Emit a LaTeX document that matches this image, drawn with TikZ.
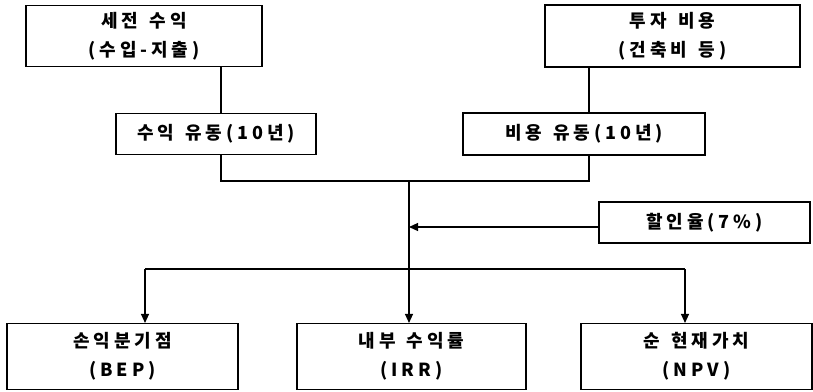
\documentclass[tikz,border=0pt]{standalone}
\usepackage{fontspec}
\setmainfont{Noto Sans CJK KR}[LetterSpace=22]
\usetikzlibrary{arrows.meta}
\newcommand{\wsp}{\hspace{11pt}}
\begin{document}
\begin{tikzpicture}[x=1pt,y=-1pt,
  box/.style={draw,line width=1.1pt,inner sep=0pt,align=center,font=\fontsize{18}{29}\selectfont\bfseries},
  conn/.style={line width=1.2pt},
  arr/.style={conn,-{Triangle[length=9pt,width=8pt]}}]
\useasboundingbox (0,0) rectangle (813,391);
\node[box,minimum width=236pt,minimum height=61pt] (A) at (144,36) {세전\wsp 수익\\(수입-지출)};
\node[box,minimum width=255pt,minimum height=62pt] (C) at (672.5,36) {투자\wsp 비용\\(건축비\wsp 등)};
\node[box,minimum width=200pt,minimum height=41pt] (B) at (216,134) {수익\wsp 유동(10년)};
\node[box,minimum width=242pt,minimum height=42pt] (D) at (584,134) {비용\wsp 유동(10년)};
\node[box,minimum width=211pt,minimum height=41pt] (R) at (704.5,222.5) {할인율(7\%)};
\node[box,minimum width=231pt,minimum height=66pt] (E) at (122.5,356.5) {손익분기점\\(BEP)};
\node[box,minimum width=229pt,minimum height=66pt] (F) at (411.5,356.5) {내부\wsp 수익률\\(IRR)};
\node[box,minimum width=231pt,minimum height=66pt] (G) at (696.5,356.5) {순\wsp 현재가치\\(NPV)};
\coordinate (jb) at (221,181);
\coordinate (jd) at (589,181);
\coordinate (jm) at (409,181);
\coordinate (jr) at (409,227);
\coordinate (js) at (409,269);
\coordinate (jl) at (145,269);
\coordinate (jn) at (685,269);
\draw[conn] (A.south -| jb) -- (B.north -| jb);
\draw[conn] (C.south -| jd) -- (D.north -| jd);
\draw[conn] (B.south -| jb) -- (jb) -- (jd) -- (D.south -| jd);
\draw[arr] (jm) -- (F.north -| jm);
\draw[arr] (R.west |- jr) -- (jr);
\draw[arr] (jl) -- (E.north -| jl);
\draw[arr] (jn) -- (G.north -| jn);
\draw[conn] (jl) -- (jn);
\end{tikzpicture}
\end{document}
